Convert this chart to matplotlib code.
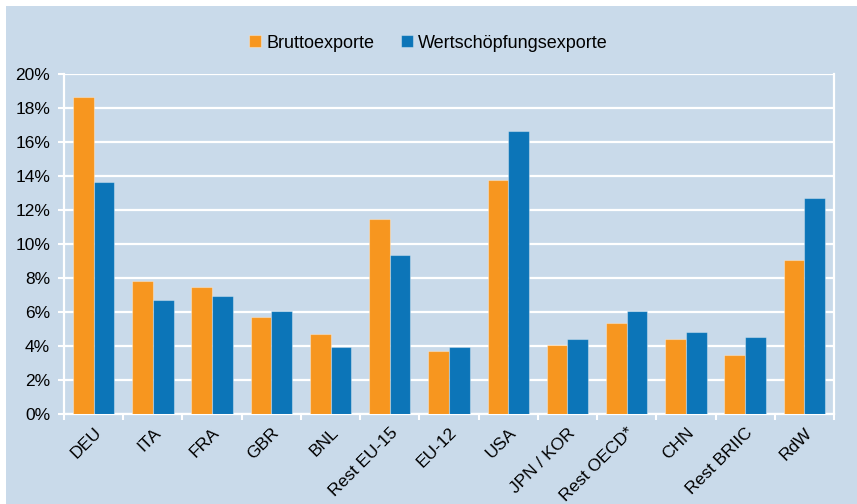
import numpy as np
import matplotlib
matplotlib.use("Agg")
import matplotlib.pyplot as plt
from matplotlib.patches import Rectangle
from matplotlib.ticker import FuncFormatter, FixedLocator

plt.rcParams["font.family"] = ["Liberation Sans", "DejaVu Sans"]

# ── Data ──────────────────────────────────────────────────────────────────────
regions = ["DEU", "ITA", "FRA", "GBR", "BNL", "Rest EU-15", "EU-12", "USA",
           "JPN / KOR", "Rest OECD*", "CHN", "Rest BRIIC", "RdW"]
brutto = [18.65, 7.8, 7.47, 5.7, 4.7, 11.45, 3.7, 13.78, 4.06, 5.37, 4.39, 3.49, 9.04]
wertsch = [13.67, 6.7, 6.92, 6.04, 3.94, 9.35, 3.94, 16.67, 4.39, 6.04, 4.82, 4.51, 12.69]

BG = "#C9DAEA"
ORANGE = "#F7961F"
BLUE = "#0C75B8"

fig = plt.figure(figsize=(8.57, 5.04), dpi=100, facecolor="white")
fig.patches.append(Rectangle((6 / 857, 0), 1, 1 - 6 / 504, transform=fig.transFigure,
                             facecolor=BG, edgecolor="none", zorder=-10))

ax = fig.add_axes([64 / 857, 1 - 414 / 504, 770 / 857, 340 / 504])
ax.set_facecolor(BG)

x = np.arange(len(regions))
w = 0.35
ax.bar(x - w / 2, brutto, w, color=ORANGE, edgecolor=(1, 1, 1, 0.35), lw=0.8,
       label="Bruttoexporte", zorder=3)
ax.bar(x + w / 2, wertsch, w, color=BLUE, edgecolor=(1, 1, 1, 0.35), lw=0.8,
       label="Wertschöpfungsexporte", zorder=3)

ax.set_xlim(-0.5, len(regions) - 0.5)
ax.set_ylim(0, 20)
ax.set_yticks(np.arange(0, 21, 2))
ax.yaxis.set_major_formatter(FuncFormatter(lambda v, _: f"{v:.0f}%"))
ax.grid(axis="y", color="white", lw=1.6, zorder=1)

ax.set_xticks(x)
ax.set_xticklabels(regions, rotation=45, ha="right", rotation_mode="anchor", fontsize=12.5)
ax.tick_params(axis="x", which="major", length=0, pad=8)
ax.xaxis.set_minor_locator(FixedLocator(np.arange(-0.5, len(regions), 1)))
ax.tick_params(axis="x", which="minor", length=4, width=1.5, color="white", direction="out")
ax.tick_params(axis="y", length=4, width=1.5, color="white", labelsize=12.5, pad=6)

for s in ["left", "right", "bottom"]:
    ax.spines[s].set_color("white")
    ax.spines[s].set_linewidth(1.6)
ax.spines["top"].set_visible(False)

fig.legend(loc="center", bbox_to_anchor=(0.5, 1 - 43 / 504), ncol=2, frameon=False,
           fontsize=13, handlelength=0.65, handleheight=0.65, handletextpad=0.3,
           columnspacing=1.5)

plt.savefig("out.png", dpi=100, facecolor=fig.get_facecolor())
